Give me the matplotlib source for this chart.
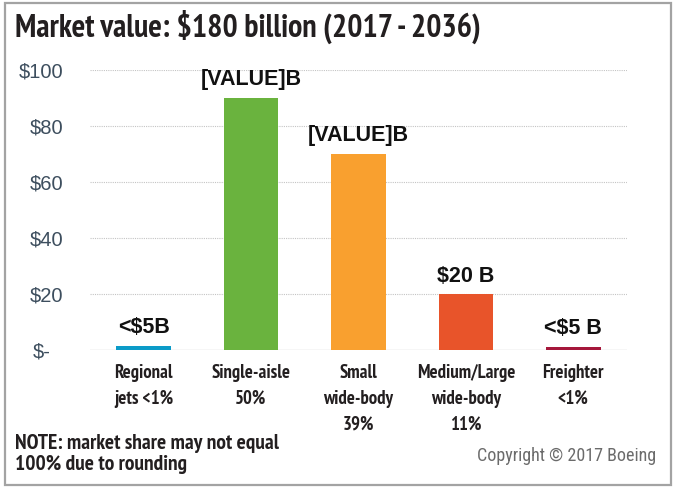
import matplotlib

matplotlib.use("Agg")
import matplotlib.pyplot as plt
from matplotlib.patches import Rectangle
from matplotlib.transforms import ScaledTranslation

categories = ["Regional\njets <1%", "Single-aisle\n50%", "Small\nwide-body\n39%",
              "Medium/Large\nwide-body\n11%", "Freighter\n<1%"]
values = [1.5, 90, 70, 20, 1.2]
value_labels = ["<$5B", "[VALUE]B", "[VALUE]B", "$20 B", "<$5 B"]
colors = ["#0b9bc8", "#6ab33e", "#f9a02f", "#e8542a", "#a5173b"]
yticks = [0, 20, 40, 60, 80, 100]
ytick_labels = ["$-", "$20", "$40", "$60", "$80", "$100"]

NARROW = ["PT Sans Narrow", "DejaVu Sans"]
COND = ["Roboto Condensed", "DejaVu Sans"]
ARIAL = ["Liberation Sans", "DejaVu Sans"]

W, H = 678, 488
fig = plt.figure(figsize=(W / 100, H / 100), dpi=100)
fig.patches.append(Rectangle((5 / W, 3 / H), 666 / W, 482 / H, transform=fig.transFigure,
                             fill=False, ec="#a3a3a3", lw=1.6))

ax = fig.add_axes([90 / W, (H - 350) / H, 537 / W, 280 / H])
x = range(len(categories))
ax.bar(x, values, width=0.51, color=colors, zorder=3)
ax.set_xlim(-0.5, 4.5)
ax.set_ylim(0, 100)

for v in yticks[1:]:
    ax.axhline(v, color="#c4c4c4", lw=0.8, ls=(0, (1, 1)), zorder=1)
ax.axhline(0, color="#d4d4d4", lw=1.0, zorder=2)
for s in ax.spines.values():
    s.set_visible(False)

ax.set_yticks(yticks)
ax.set_yticklabels(ytick_labels, family=ARIAL, fontsize=14.5, color="#3d4e5e")
ax.tick_params(axis="y", length=0, pad=19)
zero = ax.yaxis.get_major_ticks()[0].label1
zero.set_transform(zero.get_transform() + ScaledTranslation(-13 / 100, 0, fig.dpi_scale_trans))

ax.set_xticks(list(x))
ax.set_xticklabels(categories, family=NARROW, fontweight="bold", fontsize=13.5,
                   color="#231f20", linespacing=1.55)
ax.tick_params(axis="x", length=0, pad=10)

for i, (v, lab) in enumerate(zip(values, value_labels)):
    ax.annotate(lab, (i, v), xytext=(0, 9), textcoords="offset points", ha="center",
                va="baseline", family=ARIAL, fontweight="bold", fontsize=15.5,
                color="#111111")

fig.text(15 / W, 1 - 27 / H, "Market value: $180 billion (2017 - 2036)", family=NARROW,
         fontweight="bold", fontsize=23, color="#231f20", va="center", ha="left")
fig.text(15 / W, 1 - 454 / H, "NOTE: market share may not equal\n100% due to rounding",
         family=NARROW, fontweight="bold", fontsize=15.5, color="#231f20", va="center",
         ha="left", linespacing=1.15)
fig.text(656 / W, 1 - 456 / H, "Copyright \u00a9 2017 Boeing", family=COND, fontsize=13,
         color="#6b6b6b", va="center", ha="right")

fig.savefig("out.png", dpi=100)
